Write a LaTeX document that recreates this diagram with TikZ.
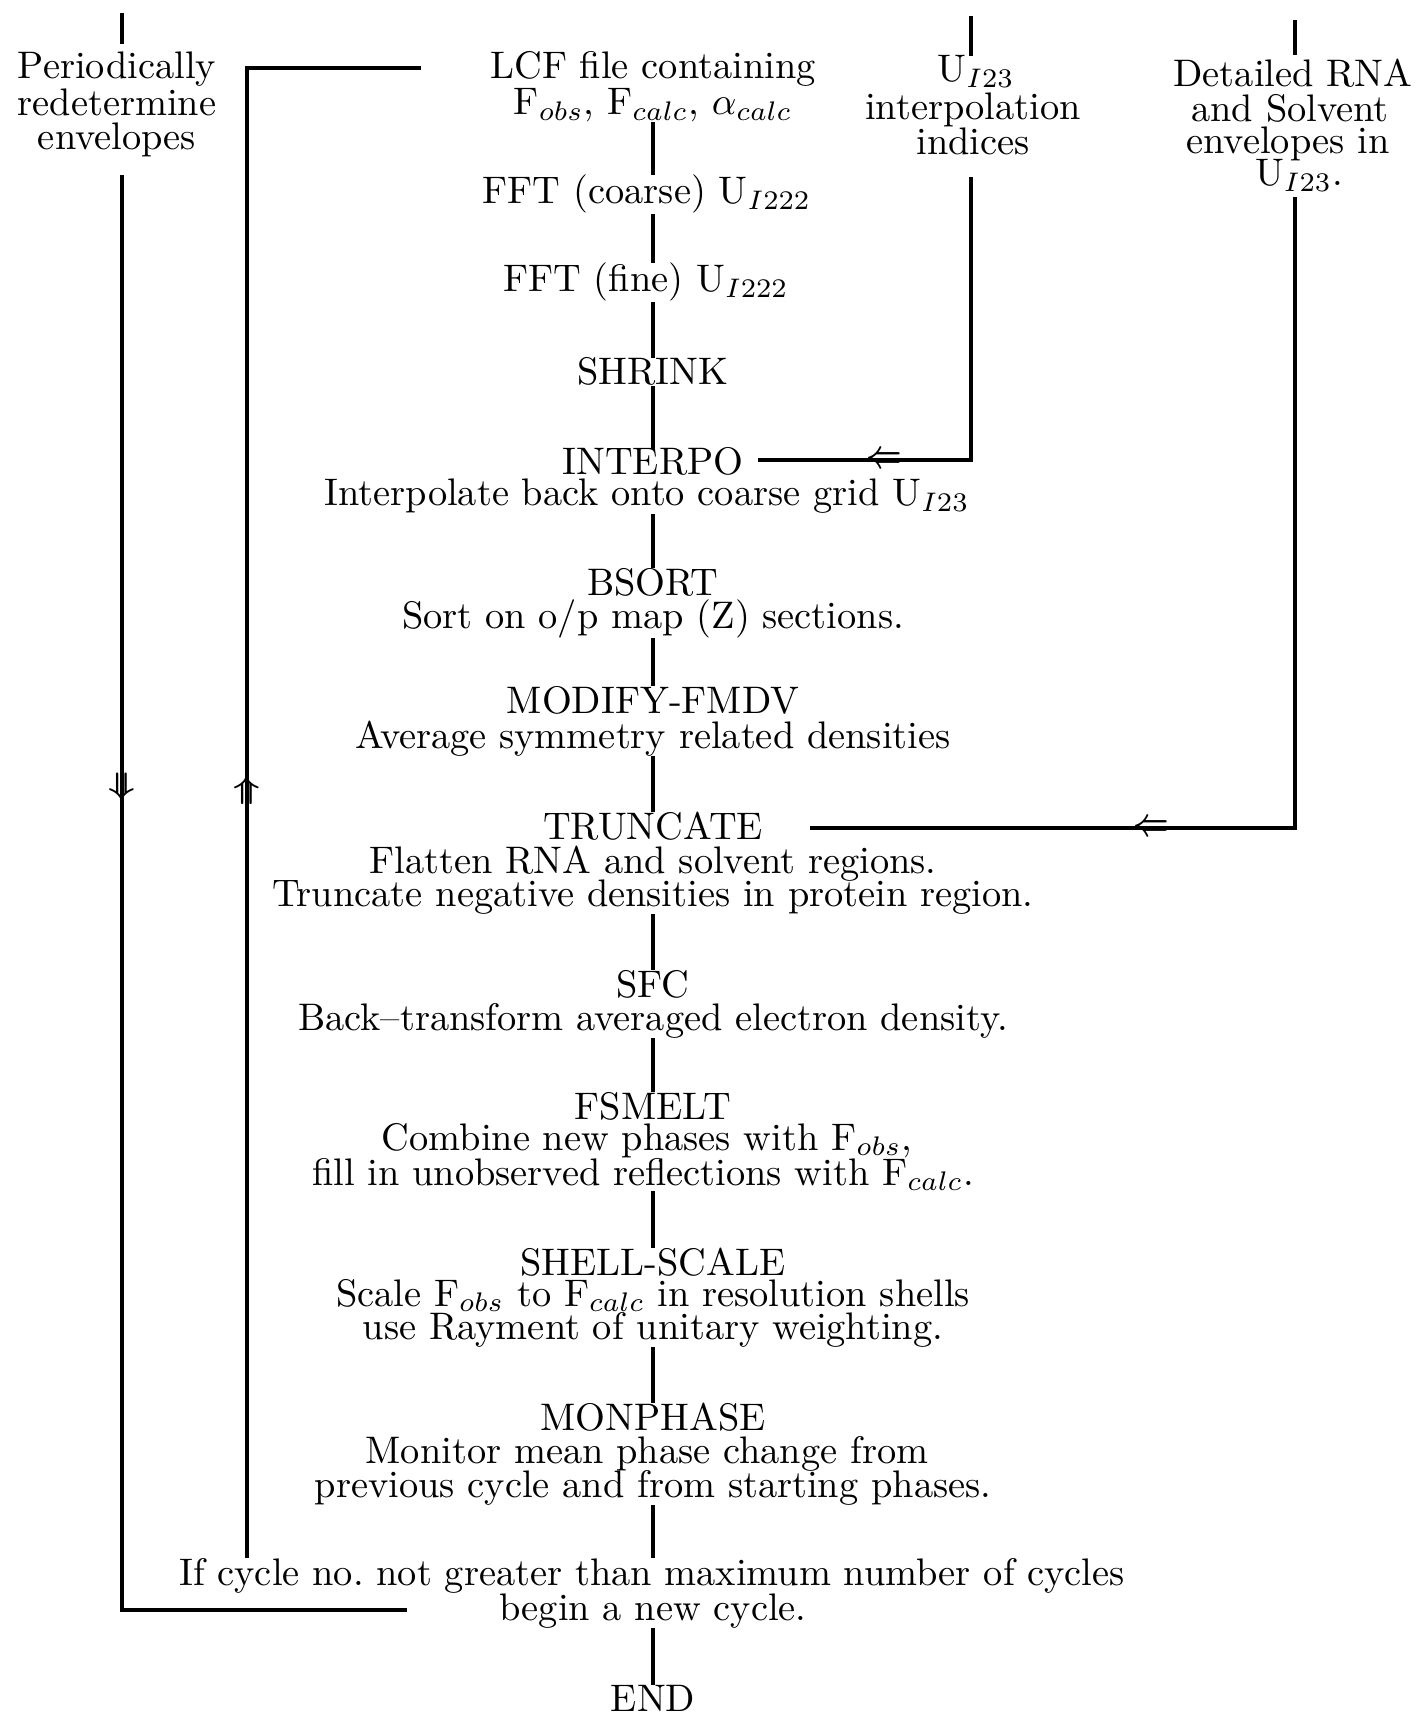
\documentclass[tikz,border=0pt]{standalone}
\usepackage{graphicx}
% text is set at 10pt and magnified, as in an enlarged typescript
\newcommand{\scaledtext}[1]{\scalebox{1.92}{#1}}
\newcommand{\tipleft}{\scalebox{1.55}[1.9]{\boldmath$\Leftarrow$}}
\newcommand{\tipdown}{\scalebox{1.9}[1.55]{\boldmath$\Downarrow$}}
\newcommand{\tipup}{\scalebox{1.9}[1.55]{\boldmath$\Uparrow$}}
\begin{document}
\begin{tikzpicture}[x=0.5pt,y=-0.5pt,
  txt/.style={inner sep=0pt, outer sep=0pt, anchor=base, font=\fontsize{10}{12}\selectfont},
  link/.style={line width=1.6pt},
  tip/.style={inner sep=0pt, outer sep=0pt, font=\fontsize{10}{12}\selectfont}]
\useasboundingbox (0,0) rectangle (1416,1716);
\fill[white] (0,0) rectangle (1416,1716);

% left column
\node[txt] (per1) at (117,79) {\scaledtext{Periodically}};
\node[txt] (per2) at (117,116) {\scaledtext{redetermine}};
\node[txt] (per3) at (117,150) {\scaledtext{envelopes}};

% interpolation indices
\node[txt] (ui1) at (976,82) {\scaledtext{U$_{I23}$}};
\node[txt] (ui2) at (973,120) {\scaledtext{interpolation}};
\node[txt] (ui3) at (973,155) {\scaledtext{indices}};

% envelopes
\node[txt] (det1) at (1293,87) {\scaledtext{Detailed RNA}};
\node[txt] (det2) at (1290,122) {\scaledtext{and Solvent}};
\node[txt] (det3) at (1288,154) {\scaledtext{envelopes in}};
\node[txt] (det4) at (1299,186) {\scaledtext{U$_{I23}$.}};

% main sequence
\coordinate (spine) at (653,0);
\node[txt] (lcf1) at (653,79) {\scaledtext{LCF file containing}};
\node[txt] (lcf2) at (653,115) {\scaledtext{F$_{obs}$, F$_{calc}$, $\alpha_{calc}$}};
\node[txt] (fftc) at (647,204) {\scaledtext{FFT (coarse) U$_{I222}$}};
\node[txt] (fftf) at (646,292) {\scaledtext{FFT (fine) U$_{I222}$}};
\node[txt] (shrink) at (653,385) {\scaledtext{SHRINK}};
\node[txt] (interpo) at (653,475) {\scaledtext{INTERPO}};
\node[txt] (interpod) at (647,506) {\scaledtext{Interpolate back onto coarse grid U$_{I23}$}};
\node[txt] (bsort) at (653,595) {\scaledtext{BSORT}};
\node[txt] (bsortd) at (653,628) {\scaledtext{Sort on o/p map (Z) sections.}};
\node[txt] (modify) at (653,713) {\scaledtext{MODIFY-FMDV}};
\node[txt] (modifyd) at (653,748) {\scaledtext{Average symmetry related densities}};
\node[txt] (trunc) at (653,839) {\scaledtext{TRUNCATE}};
\node[txt] (truncd1) at (653,873) {\scaledtext{Flatten RNA and solvent regions.}};
\node[txt] (truncd2) at (653,906) {\scaledtext{Truncate negative densities in protein region.}};
\node[txt] (sfc) at (653,997) {\scaledtext{SFC}};
\node[txt] (sfcd) at (653,1030) {\scaledtext{Back--transform averaged electron density.}};
\node[txt] (fsmelt) at (653,1119) {\scaledtext{FSMELT}};
\node[txt] (fsmeltd1) at (647,1150) {\scaledtext{Combine new phases with F$_{obs}$,}};
\node[txt] (fsmeltd2) at (643,1185) {\scaledtext{fill in unobserved reflections with F$_{calc}$.}};
\node[txt] (shell) at (653,1275) {\scaledtext{SHELL-SCALE}};
\node[txt] (shelld1) at (653,1306) {\scaledtext{Scale F$_{obs}$ to F$_{calc}$ in resolution shells}};
\node[txt] (shelld2) at (653,1339) {\scaledtext{use Rayment of unitary weighting.}};
\node[txt] (monph) at (653,1430) {\scaledtext{MONPHASE}};
\node[txt] (monphd1) at (647,1463) {\scaledtext{Monitor mean phase change from}};
\node[txt] (monphd2) at (653,1497) {\scaledtext{previous cycle and from starting phases.}};
\node[txt] (cyc1) at (652,1585) {\scaledtext{If cycle no.\ not greater than maximum number of cycles}};
\node[txt] (cyc2) at (653,1620) {\scaledtext{begin a new cycle.}};
\node[txt] (fin) at (653,1711) {\scaledtext{END}};

% links down the main sequence
\foreach \a/\b in {lcf2/fftc, fftc/fftf, fftf/shrink, shrink/interpo,
  interpod/bsort, bsortd/modify, modifyd/trunc, truncd2/sfc, sfcd/fsmelt,
  fsmeltd2/shell, shelld2/monph, monphd2/cyc1, cyc2/fin}
  \draw[link] (\a.south -| spine) -- (\b.north -| spine);

% incoming stubs at the top
\coordinate (lin) at (122,13);
\coordinate (uin) at (971,16);
\coordinate (din) at (1295,20);
\draw[link, shorten >=4pt] (lin) -- (lin |- per1.north);
\draw[link] (uin) -- (uin |- ui1.north);
\draw[link, shorten >=2pt] (din) -- (din |- det1.north);

% interpolation indices feed INTERPO
\coordinate (ucorner) at (971,460);
\draw[link, shorten <=11pt, shorten >=7.5pt] (ucorner |- ui3.south) -- (ucorner)
  -- node[tip, pos=0.38] {\tipleft} (ucorner -| interpo.east);

% envelopes feed TRUNCATE
\coordinate (dcorner) at (1295,828);
\draw[link, shorten <=2.5pt, shorten >=23.5pt] (dcorner |- det4.south) -- (dcorner)
  -- node[tip, pos=0.27] {\tipleft} (dcorner -| trunc.east);

% envelope redetermination loop
\coordinate (lcorner) at (122,1610);
\coordinate (lend) at (407,1610);
\draw[link, shorten <=9pt] (lcorner |- per3.south)
  -- node[tip, pos=0.433] {\tipdown} (lcorner) -- (lend);

% new cycle loop
\coordinate (rcorner) at (247,68);
\coordinate (rend) at (421,68);
\draw[link] (rcorner |- cyc1.north)
  -- node[tip, pos=0.515] {\tipup} (rcorner) -- (rend);
\end{tikzpicture}
\end{document}
